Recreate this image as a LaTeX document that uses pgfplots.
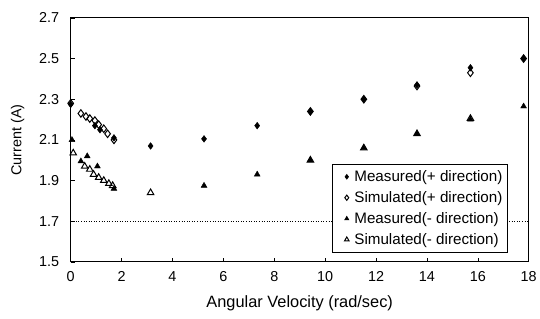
\documentclass[border=0pt]{standalone}
\usepackage{pgfplots}
\pgfplotsset{compat=1.18}
\usepackage{fontspec}
\setmainfont{Liberation Sans}
\begin{document}
\begin{tikzpicture}
\begin{axis}[
  scale only axis, width=460bp, height=245bp,
  at={(0,0)}, anchor=south west,
  xmin=0, xmax=18, ymin=1.5, ymax=2.7,
  xtick={0,2,...,18}, ytick={1.5,1.7,...,2.7},
  /pgf/number format/assume math mode=true,
  tick pos=left, major tick length=4bp,
  tick align=inside,
  axis line style={line width=0.9pt},
  every tick/.style={black, line width=0.6pt},
  ticklabel style={font=\fontsize{14.5}{16}\selectfont},
  xticklabel style={yshift=-6bp},
  yticklabel style={xshift=-8bp, /pgf/number format/.cd, fixed, fixed zerofill, precision=1},
  xlabel={Angular Velocity (rad/sec)},
  ylabel={Current (A)},
  xlabel style={font=\fontsize{16.5}{18}\selectfont, yshift=-7bp},
  ylabel style={font=\fontsize{14.5}{16}\selectfont, yshift=8bp},
  legend style={at={(0.571,0.04)}, anchor=south west, draw=black, line width=0.6pt,
    font=\fontsize{15.3}{17}\selectfont, row sep=4.5bp, inner xsep=3bp, inner ysep=4bp, fill=white},
  legend cell align=left,
  legend image code/.code={\path[draw=none, fill=none] (0,0) (0.6cm,0); \draw[#1, only marks, mark options={scale=0.7}] plot coordinates {(0.4cm,0cm)};},
  clip=false,
]
\addplot[black, dotted, line width=0.6pt, forget plot] coordinates {(0,1.7) (18,1.7)};
\addplot[only marks, mark=diamond*, mark size=3.4pt, black] coordinates {
 (0,2.275) (0.95,2.17) (1.15,2.15) (1.7,2.11) (3.14,2.07) (5.24,2.105) (7.33,2.17)
 (9.42,2.24) (11.52,2.30) (13.61,2.37) (15.71,2.455) (17.8,2.50)};
\addlegendentry{Measured(+ direction)}
\addplot[only marks, mark=diamond, mark size=3.8pt, black, line width=1pt] coordinates {
 (0,2.28) (0.4,2.23) (0.6,2.215) (0.75,2.205) (0.95,2.195) (1.1,2.175) (1.3,2.155) (1.45,2.13) (1.7,2.10)
 (9.42,2.24) (11.52,2.30) (13.61,2.365) (15.71,2.43) (17.8,2.50)};
\addlegendentry{Simulated(+ direction)}
\addplot[only marks, mark=triangle*, mark size=3.4pt, black] coordinates {
 (0.05,2.10) (0.4,1.995) (0.65,2.02) (1.05,1.97) (1.7,1.86) (5.24,1.875) (7.33,1.93)
 (9.42,2.0) (11.52,2.06) (13.61,2.13) (15.71,2.20) (17.8,2.265)};
\addlegendentry{Measured(- direction)}
\addplot[only marks, mark=triangle, mark size=3.8pt, black, line width=1pt] coordinates {
 (0.1,2.035) (0.55,1.97) (0.75,1.955) (0.9,1.93) (1.1,1.915) (1.3,1.90) (1.5,1.885) (1.65,1.875)
 (3.14,1.84) (9.42,2.00) (11.52,2.06) (13.61,2.13) (15.71,2.205)};
\addlegendentry{Simulated(- direction)}
\end{axis}
\useasboundingbox (-71bp,-57bp) rectangle (469bp,263bp);
\end{tikzpicture}
\end{document}
